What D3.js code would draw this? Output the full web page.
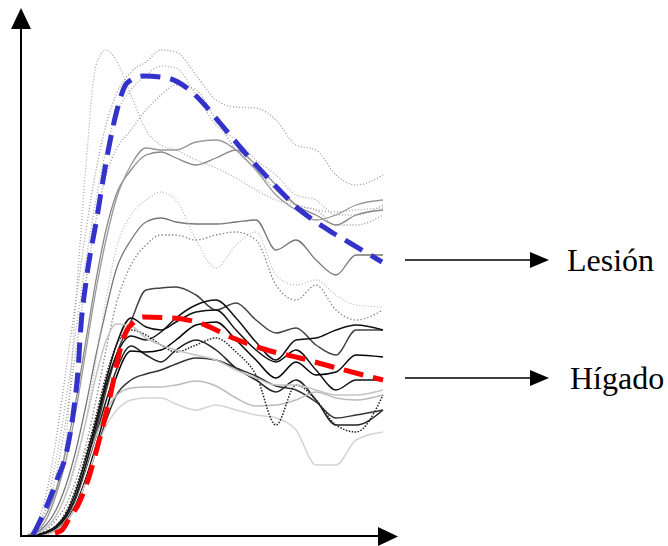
<!DOCTYPE html>
<html>
<head>
<meta charset="utf-8">
<script src="https://cdn.jsdelivr.net/npm/d3@7"></script>
<style>
  body { margin: 0; background: #fff; }
  svg { display: block; }
</style>
</head>
<body>
<div id="chart"></div>
<script>

// time grid shared by the background enhancement curves
let timeGrid = [5,15,25,35,45,55,65,75,85,95,110,125,140,155,175,195,215,235,255,275,295,315,335,362];

// individual lesion curves (grey)
let lesionTraces = [
  [0,4,16,41,96,236,371,471,486,476,441,406,391,386,376,368,358,346,336,331,326,324,326,328],
  [0,11,41,96,166,236,306,366,411,441,464,474,486,484,461,436,429,428,416,391,386,361,351,361],
  [0,8,31,76,136,206,276,336,386,421,446,461,470,468,441,411,396,376,361,341,336,321,321,331],
  [0,6,26,61,116,186,256,316,361,386,406,426,441,451,446,416,386,366,346,331,326,311,311,321],
  [0,6,21,46,86,136,196,256,306,341,366,381,384,378,371,378,386,371,351,331,321,311,321,326],
  [0,4,16,41,76,126,186,246,296,336,371,388,386,386,394,396,386,366,341,326,316,321,331,336],
  [0,3,11,26,51,86,131,181,226,266,296,314,318,314,312,312,314,316,286,296,276,261,281,281],
  [0,2,8,21,41,71,116,176,236,286,321,336,344,336,296,268,291,304,261,251,256,241,231,229],
  [0,2,6,16,31,56,91,136,186,231,271,291,301,301,296,301,304,296,251,236,251,226,216,226]
];

// individual liver curves (dark)
let liverTraces = [
  [0,1,3,9,20,40,70,105,145,180,215,246,248,249,241,226,233,216,203,208,191,181,206,206],
  [0,1,4,10,22,45,78,115,155,190,218,209,206,214,224,226,206,186,174,186,166,146,156,156],
  [0,1,3,8,18,38,68,100,135,165,190,181,174,186,196,186,168,156,144,156,136,111,111,126],
  [0,0,2,6,15,32,58,90,125,158,185,184,186,196,211,214,196,176,158,174,161,164,181,179],
  [0,0,2,6,14,30,55,85,115,140,156,162,166,172,178,176,168,160,150,146,134,118,121,126],
  [0,0,2,7,18,40,70,100,125,140,148,149,149,151,155,150,138,130,131,136,144,138,136,141],
  [0,0,1,5,14,30,55,85,110,125,136,138,138,132,126,131,126,121,118,106,71,71,96,104],
  [0,1,4,10,24,48,82,120,160,190,206,201,191,184,191,198,184,161,111,151,136,111,104,141],
  [0,1,3,8,19,40,72,110,150,180,200,196,204,218,231,236,218,194,176,196,198,206,211,206],
  [0,2,8,20,42,75,115,160,195,212,210,198,191,186,181,176,166,158,151,151,146,141,141,146]
];

// mean curves
let lesionMeanTime = [12,24,36,46,52,57,60,65,76,86,96,106,122,146,166,182,199,219,246,279,312,329,361];
let lesionMeanValue = [1,26,56,86,121,166,211,254,319,379,426,453,460,458,448,433,413,389,359,326,303,293,274];
let liverMeanTime = [34,41,49,57,66,79,89,99,106,112,122,152,179,212,246,279,312,354,362];
let liverMeanValue = [3,6,19,31,53,99,139,186,206,213,219,218,213,198,186,178,169,158,156];

let labels = ["Lesión", "Hígado"];

// styles for the background curves
let lesionColors = ["#aaa","#999","#aaa","#999","#888","#999","#777","#bbb","#888"];
let lesionDash = ["1,2","1,2","1,2","1,2",null,null,null,"1,2","1.5,2"];
let liverColors = ["#444","#111","#222","#000","#333","#bbb","#d4d4d4","#222","#111","#c4c4c4"];
let liverDash = [null,null,null,null,null,null,null,"1.5,1.5",null,null];

let width = 668, height = 546;

let svg = d3.select("#chart").append("svg")
  .attr("width", width)
  .attr("height", height);

let x = d3.scaleLinear().domain([0, 362]).range([21, 383]);
let y = d3.scaleLinear().domain([0, 500]).range([536, 36]);

let line = d3.line()
  .x(d => x(d[0]))
  .y(d => y(d[1]))
  .curve(d3.curveMonotoneX);

let pairs = (ts, vs) => ts.map((t, i) => [t, vs[i]]);

svg.selectAll("path.lesion")
  .data(lesionTraces)
  .enter()
  .append("path")
  .attr("class", "lesion")
  .attr("d", d => line(pairs(timeGrid, d)))
  .attr("fill", "none")
  .attr("stroke", (d, i) => lesionColors[i])
  .attr("stroke-width", 1.3)
  .attr("stroke-dasharray", (d, i) => lesionDash[i]);

svg.selectAll("path.liver")
  .data(liverTraces)
  .enter()
  .append("path")
  .attr("class", "liver")
  .attr("d", d => line(pairs(timeGrid, d)))
  .attr("fill", "none")
  .attr("stroke", (d, i) => liverColors[i])
  .attr("stroke-width", 1.5)
  .attr("stroke-dasharray", (d, i) => liverDash[i]);

// mean curves
svg.append("path")
  .attr("d", line(pairs(lesionMeanTime, lesionMeanValue)))
  .attr("fill", "none")
  .attr("stroke", "#3333cc")
  .attr("stroke-width", 5)
  .attr("stroke-dasharray", "20,10");

svg.append("path")
  .attr("d", line(pairs(liverMeanTime, liverMeanValue)))
  .attr("fill", "none")
  .attr("stroke", "#ff0000")
  .attr("stroke-width", 5)
  .attr("stroke-dasharray", "20,10");

// axes with arrow heads
svg.append("line")
  .attr("x1", 21).attr("y1", 537).attr("x2", 21).attr("y2", 26)
  .attr("stroke", "#000").attr("stroke-width", 2);
svg.append("path")
  .attr("d", "M11,29L31,29L21,8Z")
  .attr("fill", "#000");

svg.append("line")
  .attr("x1", 20).attr("y1", 536).attr("x2", 382).attr("y2", 536)
  .attr("stroke", "#000").attr("stroke-width", 2);
svg.append("path")
  .attr("d", "M378,527L378,546L398,536.5Z")
  .attr("fill", "#000");

// labels pointing to the curve ends
let labelY = [lesionMeanValue[lesionMeanValue.length - 1], liverMeanValue[liverMeanValue.length - 1]];

let lab = svg.selectAll("g.label")
  .data(labels)
  .enter()
  .append("g")
  .attr("class", "label")
  .attr("transform", (d, i) => "translate(0," + (y(labelY[i]) - 2) + ")");

lab.append("line")
  .attr("x1", 405).attr("x2", 532)
  .attr("stroke", "#000").attr("stroke-width", 1.5);
lab.append("path")
  .attr("d", "M530,-8L530,8L549,0Z")
  .attr("fill", "#000");
lab.append("text")
  .attr("x", (d, i) => i == 0 ? 567 : 570)
  .attr("y", 11)
  .attr("font-family", "'Liberation Serif', 'Times New Roman', serif")
  .attr("font-size", 32)
  .attr("fill", "#000")
  .text(d => d);

</script>
</body>
</html>
